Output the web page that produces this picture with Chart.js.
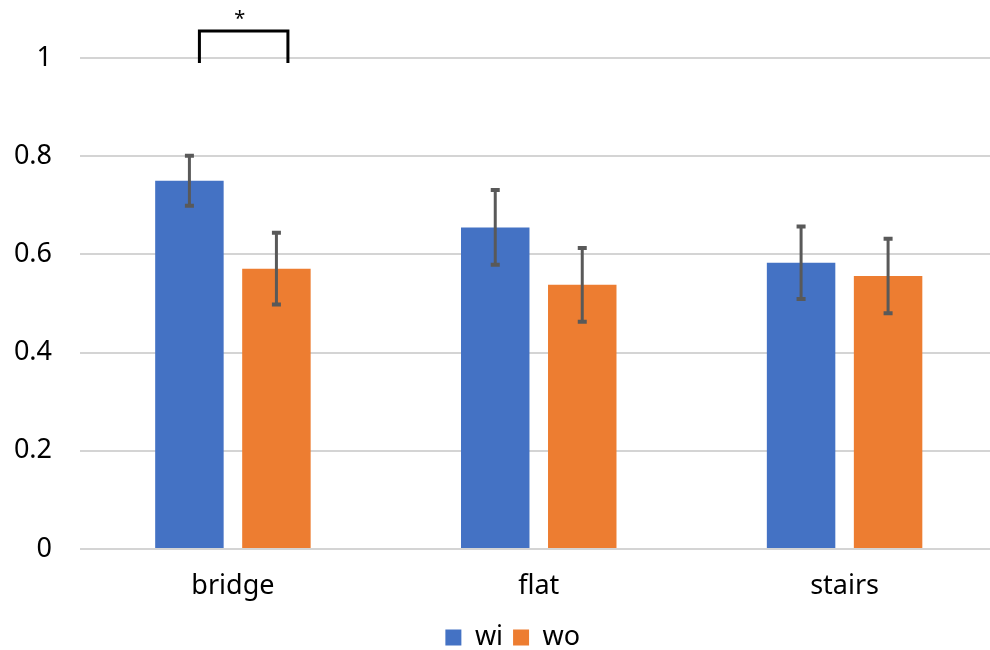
<!DOCTYPE html>
<html>
<head>
<meta charset="utf-8">
<script src="https://cdn.jsdelivr.net/npm/chart.js@4/dist/chart.umd.min.js"></script>
<style>
  html, body { margin: 0; padding: 0; background: #fff; overflow: hidden; }
  #wrap { width: 1026px; height: 650px; }
</style>
</head>
<body>
<div id="wrap"><canvas id="c" width="1026" height="650"></canvas></div>
<script>
const categories = ['bridge', 'flat', 'stairs'];
const seriesNames = ['wi', 'wo'];
const wiValues = [0.750, 0.655, 0.583];
const woValues = [0.571, 0.538, 0.556];
const wiErrors = [0.051, 0.076, 0.074];
const woErrors = [0.073, 0.075, 0.076];
// significance marker between the two bridge bars
const sigCategory = 0;
const sigLabel = '*';
const sigLevel = 1.055;
const sigFoot = 0.99;
const sigTextLevel = 1.079;

const FONT = '"Noto Sans", "Noto Sans CJK JP", sans-serif';

const errorBars = {
  id: 'errorBars',
  afterDatasetsDraw(chart) {
    const ctx = chart.ctx;
    const y = chart.scales.y;
    ctx.save();
    ctx.strokeStyle = '#595959';
    ctx.lineCap = 'butt';
    chart.data.datasets.forEach((ds, di) => {
      const meta = chart.getDatasetMeta(di);
      meta.data.forEach((bar, i) => {
        const v = ds.data[i], e = ds.errors[i];
        const yt = y.getPixelForValue(v + e);
        const yb = y.getPixelForValue(v - e);
        ctx.lineWidth = 3;
        ctx.beginPath();
        ctx.moveTo(bar.x, yt);
        ctx.lineTo(bar.x, yb);
        ctx.stroke();
        ctx.lineWidth = 4;
        ctx.beginPath();
        ctx.moveTo(bar.x - 4.5, yt);
        ctx.lineTo(bar.x + 4.5, yt);
        ctx.moveTo(bar.x - 4.5, yb);
        ctx.lineTo(bar.x + 4.5, yb);
        ctx.stroke();
      });
    });
    ctx.restore();
  }
};

const sigBracket = {
  id: 'sigBracket',
  afterDraw(chart) {
    const ctx = chart.ctx;
    const y = chart.scales.y;
    const a = chart.getDatasetMeta(0).data[sigCategory];
    const b = chart.getDatasetMeta(1).data[sigCategory];
    const x1 = a.x + 10, x2 = b.x + 11.5;
    const yTop = y.getPixelForValue(sigLevel);
    const yFoot = y.getPixelForValue(sigFoot);
    ctx.save();
    ctx.strokeStyle = '#000';
    ctx.lineWidth = 3;
    ctx.lineJoin = 'miter';
    ctx.beginPath();
    ctx.moveTo(x1, yFoot);
    ctx.lineTo(x1, yTop);
    ctx.lineTo(x2, yTop);
    ctx.lineTo(x2, yFoot);
    ctx.stroke();
    ctx.fillStyle = '#000';
    ctx.font = '20px ' + FONT;
    ctx.textAlign = 'center';
    ctx.textBaseline = 'middle';
    ctx.fillText(sigLabel, (x1 + x2) / 2 - 4, y.getPixelForValue(sigTextLevel));
    ctx.restore();
  }
};

// nudge the legend row to sit under the middle of the visible page
const legendShift = {
  id: 'legendShift',
  afterLayout(chart) {
    if (chart.legend) {
      chart.legend.left += 14;
      chart.legend.right += 14;
    }
  }
};

new Chart(document.getElementById('c'), {
  type: 'bar',
  data: {
    labels: categories,
    datasets: [
      { label: seriesNames[0], data: wiValues, errors: wiErrors, backgroundColor: '#4472C4' },
      { label: seriesNames[1], data: woValues, errors: woErrors, backgroundColor: '#ED7D31' }
    ]
  },
  options: {
    responsive: false,
    animation: false,
    devicePixelRatio: 1,
    categoryPercentage: 0.569,
    barPercentage: 0.787,
    layout: { padding: { top: 58, left: 0, right: 28.5, bottom: -11 } },
    scales: {
      x: {
        afterFit(scale) { scale.height = 65; },
        grid: { display: false },
        border: { display: false },
        ticks: { color: '#000', font: { family: FONT, size: 27 }, padding: 13 }
      },
      y: {
        min: 0, max: 1,
        afterFit(scale) { scale.width = 80; },
        grid: { color: '#d4d4d4', lineWidth: 2, drawTicks: false },
        border: { display: false },
        ticks: {
          stepSize: 0.2,
          padding: 28,
          color: '#000',
          font: { family: FONT, size: 27 },
          callback: v => String(Number(v.toFixed(1)))
        }
      }
    },
    plugins: {
      tooltip: { enabled: false },
      legend: {
        position: 'bottom',
        labels: {
          color: '#000',
          font: { family: FONT, size: 27 },
          boxWidth: 16,
          boxHeight: 16,
          padding: 10
        }
      }
    }
  },
  plugins: [errorBars, sigBracket, legendShift]
});
</script>
</body>
</html>
